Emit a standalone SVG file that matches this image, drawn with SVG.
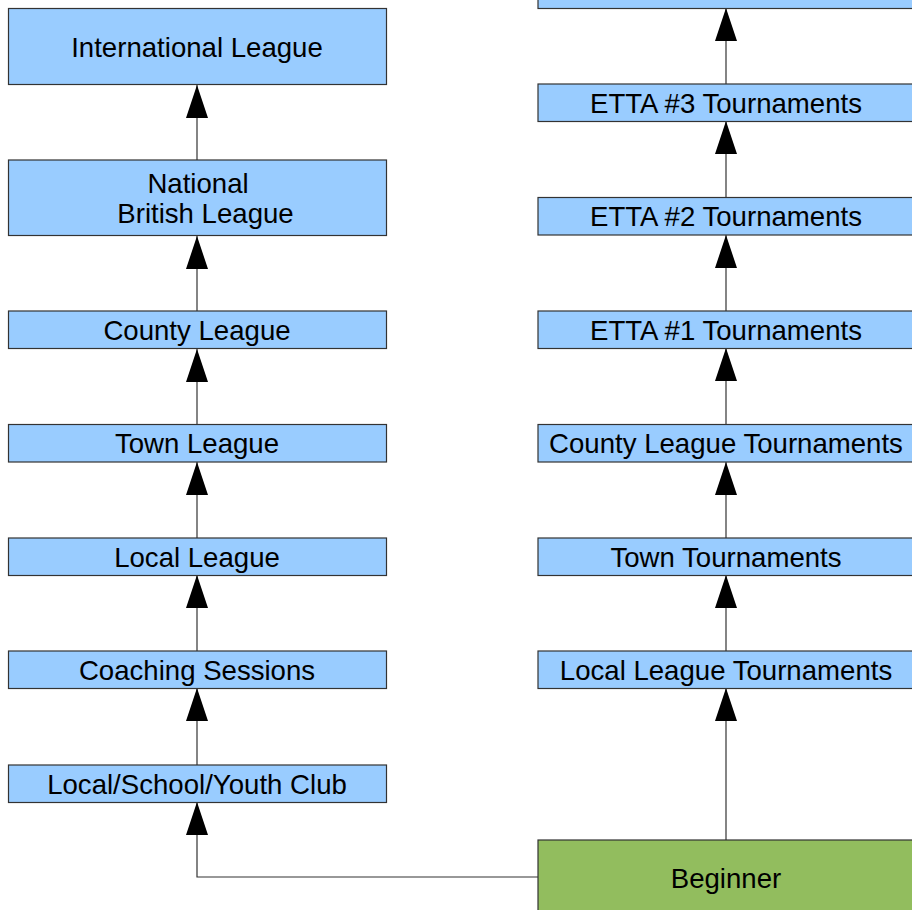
<svg xmlns="http://www.w3.org/2000/svg" width="912" height="910" viewBox="0 0 912 910">
<style>
.box{fill:#99ccff;stroke:#333;stroke-width:1.2}
.green{fill:#92bd5e;stroke:#333;stroke-width:1.2}
.t{font-family:"Liberation Sans",Arial,sans-serif;font-size:27.6px;fill:#000;text-anchor:middle}
.c{fill:none;stroke:#333;stroke-width:1.2}
</style>
<defs>
<marker id="ah" markerUnits="userSpaceOnUse" markerWidth="34" markerHeight="24" refX="33" refY="11" orient="auto">
<path d="M0,0 L33,11 L0,22 z" fill="#000"/>
</marker>
</defs>
<rect width="912" height="910" fill="#fff"/>
<g id="connectors">
<path class="c" d="M197,160 V85" marker-end="url(#ah)"/>
<path class="c" d="M197,311 V236" marker-end="url(#ah)"/>
<path class="c" d="M197,425 V349" marker-end="url(#ah)"/>
<path class="c" d="M197,538 V462" marker-end="url(#ah)"/>
<path class="c" d="M197,651 V575" marker-end="url(#ah)"/>
<path class="c" d="M197,765 V688" marker-end="url(#ah)"/>
<path class="c" d="M538,877 H197 V802" marker-end="url(#ah)"/>
<path class="c" d="M726,84 V8" marker-end="url(#ah)"/>
<path class="c" d="M726,197 V121" marker-end="url(#ah)"/>
<path class="c" d="M726,311 V235" marker-end="url(#ah)"/>
<path class="c" d="M726,424 V348" marker-end="url(#ah)"/>
<path class="c" d="M726,538 V462" marker-end="url(#ah)"/>
<path class="c" d="M726,651 V575" marker-end="url(#ah)"/>
<path class="c" d="M726,840 V688" marker-end="url(#ah)"/>
</g>
<g id="international"><rect class="box" x="8.5" y="8.5" width="378" height="76"/><text class="t" x="197" y="56.5">International League</text></g>
<g id="national"><rect class="box" x="8.5" y="160" width="378" height="75.5"/><text class="t" x="198" y="193">National</text><text class="t" x="205.5" y="223">British League</text></g>
<g id="county"><rect class="box" x="8.5" y="311" width="378" height="37.5"/><text class="t" x="197" y="339.5">County League</text></g>
<g id="town"><rect class="box" x="8.5" y="424.5" width="378" height="37.5"/><text class="t" x="197" y="453">Town League</text></g>
<g id="local"><rect class="box" x="8.5" y="538" width="378" height="37.5"/><text class="t" x="197" y="566.5">Local League</text></g>
<g id="coaching"><rect class="box" x="8.5" y="651" width="378" height="37.5"/><text class="t" x="197" y="680">Coaching Sessions</text></g>
<g id="club"><rect class="box" x="8.5" y="765" width="378" height="37.5"/><text class="t" x="197" y="793.5">Local/School/Youth Club</text></g>
<g id="top-right"><rect class="box" x="538" y="-70" width="376" height="78.5"/></g>
<g id="etta3"><rect class="box" x="538" y="84" width="376" height="37.5"/><text class="t" x="726" y="112.5">ETTA #3 Tournaments</text></g>
<g id="etta2"><rect class="box" x="538" y="197.5" width="376" height="37.5"/><text class="t" x="726" y="226">ETTA #2 Tournaments</text></g>
<g id="etta1"><rect class="box" x="538" y="311" width="376" height="37.5"/><text class="t" x="726" y="339.5">ETTA #1 Tournaments</text></g>
<g id="county-t"><rect class="box" x="538" y="424.5" width="376" height="37.5"/><text class="t" x="726" y="453">County League Tournaments</text></g>
<g id="town-t"><rect class="box" x="538" y="538" width="376" height="37.5"/><text class="t" x="726" y="566.5">Town Tournaments</text></g>
<g id="local-t"><rect class="box" x="538" y="651" width="376" height="37.5"/><text class="t" x="726" y="680">Local League Tournaments</text></g>
<g id="beginner"><rect class="green" x="538" y="840" width="376" height="76"/><text class="t" x="726" y="887.5">Beginner</text></g>
</svg>
